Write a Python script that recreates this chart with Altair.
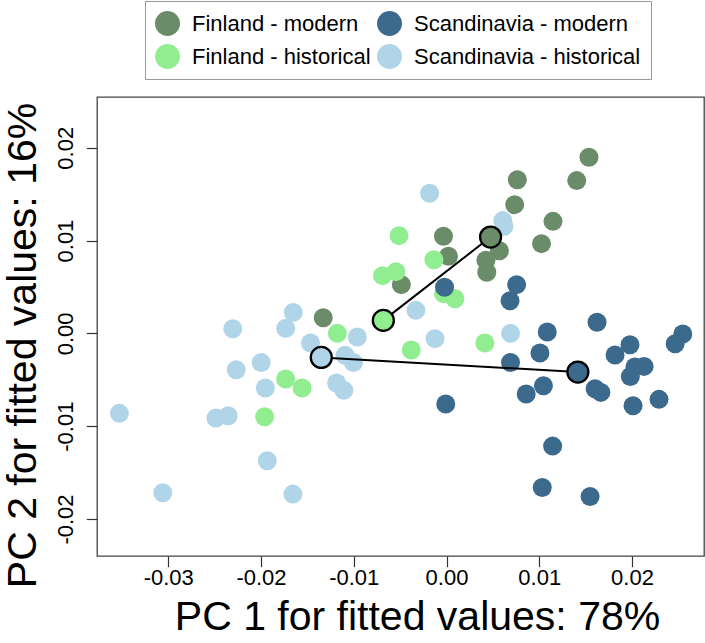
import altair as alt
import pandas as pd

FONT = "Liberation Sans"

legend_order = ["Finland - modern", "Finland - historical",
                "Scandinavia - modern", "Scandinavia - historical"]
legend_colors = ["#6A8C69", "#90EE90", "#3C6A8C", "#B0D5E8"]

# Finland - modern
fm_x = [0.01536, 0.01404, 0.00764, 0.00735, 0.01148, 0.01024, -0.00033, 0.00021,
        0.0057, 0.00425, 0.00434, -0.00487, -0.01329]
fm_y = [0.01897, 0.01646, 0.01656, 0.01387, 0.01207, 0.00967, 0.01046, 0.0083,
        0.00891, 0.00787, 0.00658, 0.00525, 0.00169]
# Finland - historical
fh_x = [-0.00512, -0.00136, -0.0069, -0.00545, -0.00033, 0.00091, -0.01177, -0.0038,
        0.00413, -0.01734, -0.01557, -0.01961]
fh_y = [0.01053, 0.00794, 0.00622, 0.00665, 0.00428, 0.00374, 0.0, -0.0018,
        -0.00104, -0.00492, -0.00589, -0.00898]
# Scandinavia - modern
sm_x = [-0.00021, 0.00756, 0.00685, 0.01623, 0.01086, 0.02547, 0.02465, 0.01978,
        0.01007, 0.01817, 0.0069, 0.0213, 0.02031, 0.01982, 0.01045, 0.00859,
        0.01602, 0.01664, 0.02011, 0.02291, -0.00008, 0.01144, 0.01032, 0.01548]
sm_y = [0.00496, 0.00525, 0.00352, 0.00119, 0.00014, -0.00007, -0.00111, -0.00122,
        -0.00212, -0.00234, -0.00313, -0.00356, -0.00363, -0.00464, -0.00564, -0.00654,
        -0.00596, -0.00636, -0.0078, -0.00711, -0.00762, -0.01215, -0.0166, -0.01757]
# Scandinavia - historical
sh_x = [-0.00182, 0.00607, 0.00619, -0.0033, -0.00124, 0.0069, -0.01652, -0.01734,
        -0.02304, -0.01466, -0.00962, -0.01094, -0.01003, -0.01998, -0.02267, -0.01953,
        -0.01185, -0.01107, -0.03526, -0.02486, -0.02353, -0.01932, -0.03059, -0.01656]
sh_y = [0.01509, 0.01215, 0.01153, 0.00248, -0.00057, 0.0, 0.00226, 0.00054,
        0.0005, -0.00104, -0.0004, -0.00237, -0.00313, -0.00313, -0.00392, -0.00589,
        -0.00535, -0.00614, -0.00862, -0.00913, -0.00888, -0.01373, -0.01718, -0.01732]

# group centroids
cen_group = ["Finland - modern", "Finland - historical",
             "Scandinavia - modern", "Scandinavia - historical"]
cen_x = [0.00475, -0.00681, 0.01416, -0.0135]
cen_y = [0.01038, 0.0014, -0.00417, -0.00259]

x_ticks = [-0.03, -0.02, -0.01, 0.0, 0.01, 0.02]
y_ticks = [-0.02, -0.01, 0.0, 0.01, 0.02]

rows = []
for g, xs, ys in [("Finland - modern", fm_x, fm_y),
                  ("Finland - historical", fh_x, fh_y),
                  ("Scandinavia - modern", sm_x, sm_y),
                  ("Scandinavia - historical", sh_x, sh_y)]:
    for a, b in zip(xs, ys):
        rows.append({"group": g, "x": a, "y": b})
pts = pd.DataFrame(rows)

cen = pd.DataFrame({"group": cen_group, "x": cen_x, "y": cen_y})
cmap = dict(zip(cen_group, zip(cen_x, cen_y)))
seg = pd.DataFrame([
    {"x": cmap["Finland - historical"][0], "y": cmap["Finland - historical"][1],
     "x2": cmap["Finland - modern"][0], "y2": cmap["Finland - modern"][1]},
    {"x": cmap["Scandinavia - historical"][0], "y": cmap["Scandinavia - historical"][1],
     "x2": cmap["Scandinavia - modern"][0], "y2": cmap["Scandinavia - modern"][1]},
])

label_expr = "datum.value < 0 ? '-' + format(-datum.value, '.2f') : format(datum.value, '.2f')"

xscale = alt.Scale(domain=[-0.03768, 0.02776], nice=False, zero=False)
yscale = alt.Scale(domain=[-0.02399, 0.02547], nice=False, zero=False)

x_enc = alt.X("x:Q", scale=xscale, axis=alt.Axis(
    values=x_ticks, labelExpr=label_expr, title="PC 1 for fitted values: 78%",
    grid=False, domain=False, tickSize=10.7, tickColor="#333333", tickWidth=1.2,
    labelFont=FONT, labelFontSize=22, labelColor="black", labelPadding=1,
    labelBaseline="top", labelAlign="center",
    titleFont=FONT, titleFontSize=41, titleFontWeight="normal", titleColor="black",
    titleX=320, titleY=73, titleBaseline="alphabetic", titleAlign="center"))
y_enc = alt.Y("y:Q", scale=yscale, axis=alt.Axis(
    values=y_ticks, labelExpr=label_expr, title="PC 2 for fitted values: 16%",
    grid=False, domain=False, tickSize=10.7, tickColor="#333333", tickWidth=1.2,
    labelFont=FONT, labelFontSize=22, labelColor="black", labelPadding=14,
    labelAngle=270, labelAlign="center", labelBaseline="alphabetic",
    titleFont=FONT, titleFontSize=41, titleFontWeight="normal", titleColor="black",
    titleAngle=270, titleX=-62, titleY=248, titleBaseline="alphabetic",
    titleAlign="center"))

color = alt.Color("group:N", title=None,
                  scale=alt.Scale(domain=legend_order, range=legend_colors),
                  legend=alt.Legend(
                      orient="none", legendX=48, legendY=-96, columns=2,
                      padding=10, strokeColor="#999999", fillColor="white",
                      labelFont=FONT, labelFontSize=22, labelColor="black",
                      labelLimit=500, labelOffset=12, columnPadding=6, rowPadding=8,
                      symbolType="circle", symbolSize=625, symbolStrokeWidth=0,
                      symbolOpacity=1))

points = alt.Chart(pts).mark_circle(size=361, opacity=1).encode(
    x=x_enc, y=y_enc, color=color)

lines = alt.Chart(seg).mark_rule(color="black", strokeWidth=2).encode(
    x=alt.X("x:Q", scale=xscale), y=alt.Y("y:Q", scale=yscale),
    x2="x2:Q", y2="y2:Q")

cents = alt.Chart(cen).mark_circle(size=441, opacity=1, stroke="black",
                                   strokeWidth=2.3).encode(
    x=alt.X("x:Q", scale=xscale), y=alt.Y("y:Q", scale=yscale),
    color=alt.Color("group:N", scale=alt.Scale(domain=legend_order, range=legend_colors),
                    legend=None))

chart = alt.layer(points, lines, cents).properties(
    width=607, height=459,
    padding={"left": 97, "top": 97, "right": 1, "bottom": 87},
    autosize=alt.AutoSizeParams(type="none"),
    background="white",
).configure_view(stroke="#444444", strokeWidth=1.3)

chart.save("out.html", embed_options={"renderer": "svg", "actions": False})
